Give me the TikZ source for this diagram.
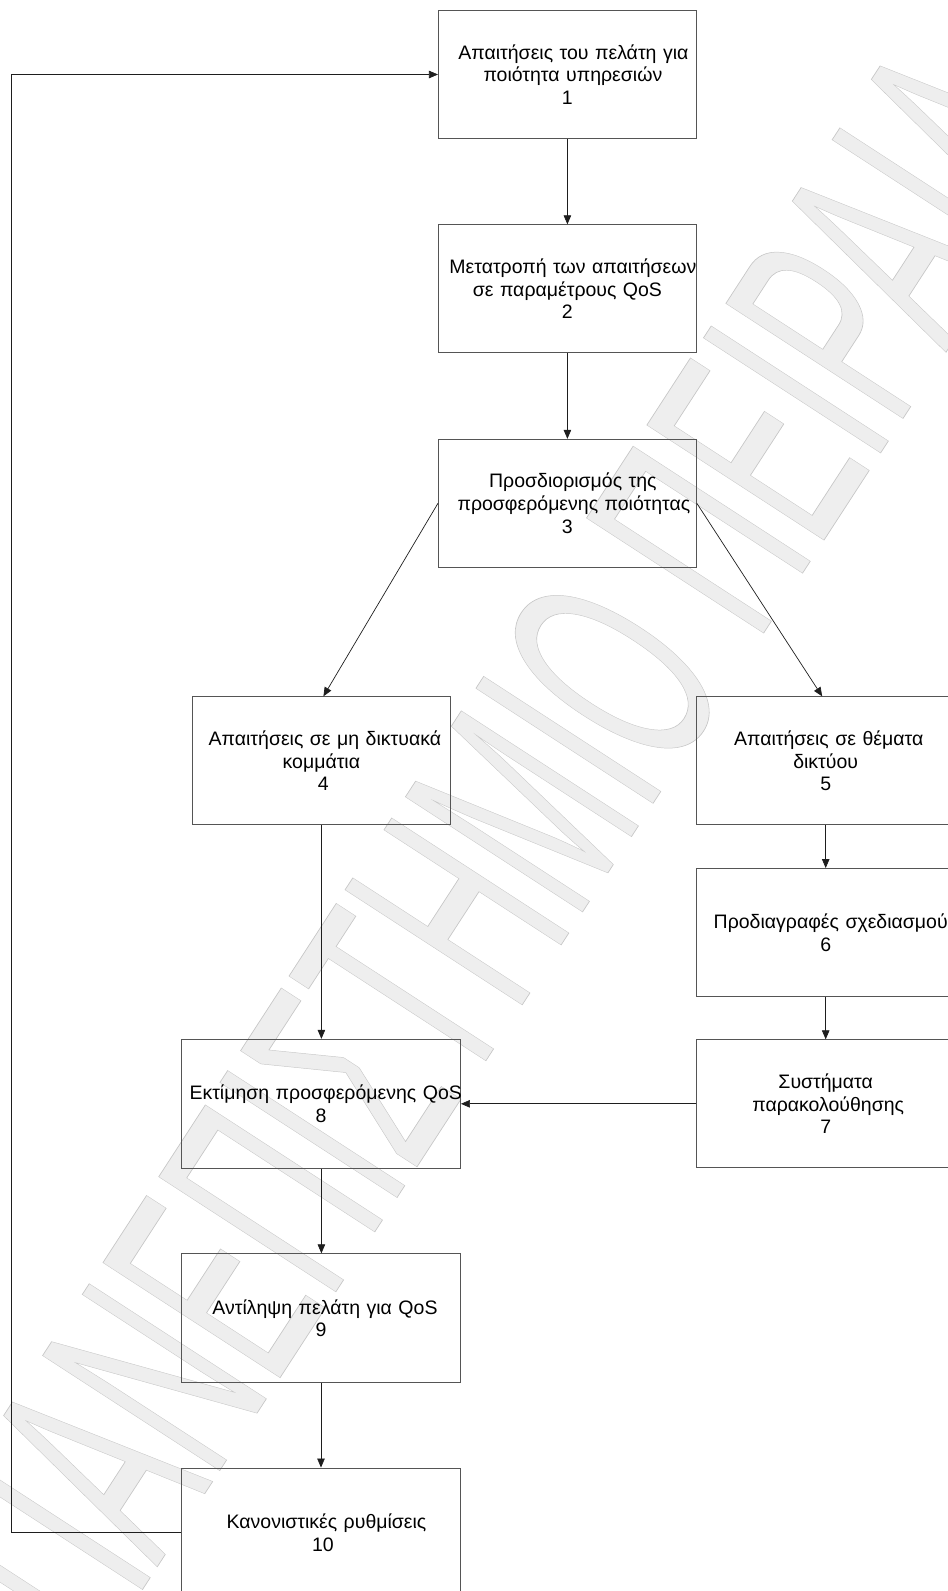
\documentclass[tikz,border=0pt]{standalone}
\usepackage{fontspec}
\setmainfont{Liberation Sans}
\usetikzlibrary{arrows.meta}
\definecolor{edge}{RGB}{85,85,85}
\definecolor{wire}{RGB}{30,30,30}
\definecolor{wmark}{RGB}{238,238,238}
% one unbreakable text line, pushed right by half of the optional width
\newcommand{\tline}[2][0]{\mbox{\hspace*{#1pt}#2}}
% outlined lettering for the background stamp
\newcommand{\hollow}[1]{\special{pdf:literal direct 2 Tr 0.7 w 0.78 G}#1\special{pdf:literal direct 0 Tr}}
\hbadness=10000 \hfuzz=20pt
\begin{document}
\begin{tikzpicture}[x=1pt,y=-1pt,
  box/.style={draw=edge, line width=0.9pt, text width=258pt, minimum height=128pt,
    align=center, inner sep=0pt, font=\fontsize{19.5}{22.6}\selectfont},
  widebox/.style={box, text width=279pt, minimum height=129pt},
  flow/.style={draw=wire, line width=0.7pt, -{Triangle[length=9pt,width=7.5pt]}},
  stamp/.style={text=wmark, inner sep=0pt, rotate=57, xscale=0.5, transform shape,
    font=\fontsize{307}{307}\selectfont}]
\useasboundingbox (0,0) rectangle (948,1591);

% background stamp running diagonally under the chart
\node[stamp] (wm) at (500,845) {\hollow{ΠΑΝΕΠΙΣΤΗΜΙΟ ΠΕΙΡΑΙΑ}};

% process steps
\node[box] (b1) at (567.4,74.5) {\tline[12]{Απαιτήσεις του πελάτη για}\\\tline[11]{ποιότητα υπηρεσιών}\\1};
\node[box] (b2) at (567.4,288.8) {\tline[11]{Μετατροπή των απαιτήσεων}\\\tline{σε παραμέτρους QoS}\\2};
\node[box] (b3) at (567.4,503.3) {\tline[11]{Προσδιορισμός της}\\\tline[13]{προσφερόμενης ποιότητας}\\3};
\node[box] (b4) at (321.4,760.8) {\tline[7]{Απαιτήσεις σε μη δικτυακά}\\κομμάτια\\\tline[4]{4}};
\node[box] (b5) at (825.7,760.8) {\tline[6]{Απαιτήσεις σε θέματα}\\δικτύου\\5};
\node[box] (b6) at (825.7,932.5) {\tline[10]{Προδιαγραφές σχεδιασμού}\\6};
\node[box] (b7) at (825.7,1103.8) {Συστήματα\\\tline[5]{παρακολούθησης}\\7};
\node[widebox] (b8) at (321,1103.8) {\tline[8]{Εκτίμηση προσφερόμενης QoS}\\8};
\node[widebox] (b9) at (321,1318.3) {\tline[8]{Αντίληψη πελάτη για QoS}\\9};
\node[widebox] (b10) at (321,1532.5) {\tline[11]{Κανονιστικές ρυθμίσεις}\\\tline[4]{10}};

% feedback loop corners
\coordinate (lb) at (10.9,1532.5);
\coordinate (lt) at (10.9,74.5);

% connectors
\draw[flow] (b1) -- (b2);
\draw[flow] (b2) -- (b3);
\draw[flow] (b3.west) -- ([xshift=2pt]b4.north);
\draw[flow] (b3.east) -- ([xshift=-3.5pt]b5.north);
\draw[flow] (b4) -- (b4 |- b8.north);
\draw[flow] (b5) -- (b6);
\draw[flow] (b6) -- (b7);
\draw[flow] (b7) -- (b8);
\draw[flow] (b8.south -| b4) -- (b9.north -| b4);
\draw[flow] (b9) -- (b10);
\draw[flow] (b10.west) -- (lb) -- (lt) -- (b1.west);
\end{tikzpicture}
\end{document}
